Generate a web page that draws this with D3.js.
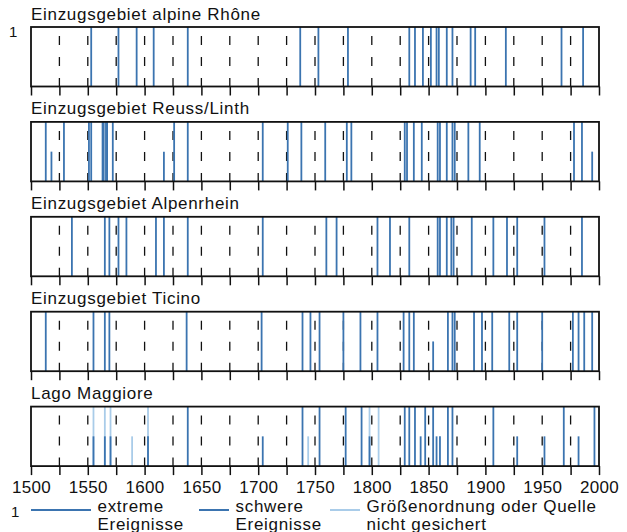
<!DOCTYPE html>
<html>
<head>
<meta charset="utf-8">
<script src="https://cdnjs.cloudflare.com/ajax/libs/d3/7.8.5/d3.min.js"></script>
<style>
  body { margin: 0; background: #fff; }
  svg text { font-family: 'Liberation Sans', Arial, Helvetica, sans-serif; fill: #111; }
</style>
</head>
<body>
<div id="chart"></div>
<script>
// Panel titles, top to bottom
const regions = [
  'Einzugsgebiet alpine Rhône',
  'Einzugsgebiet Reuss/Linth',
  'Einzugsgebiet Alpenrhein',
  'Einzugsgebiet Ticino',
  'Lago Maggiore'
];

// extreme events (full height), one array per panel
const extremeEvents = [
  [1553, 1577, 1593, 1608, 1638, 1737, 1753, 1779, 1833, 1838, 1845, 1852, 1857, 1859, 1866, 1871, 1887, 1891, 1918, 1967, 1986],
  [1513, 1529, 1551, 1553, 1563, 1564, 1566, 1567, 1572, 1626, 1638, 1704, 1726, 1738, 1759, 1778, 1782, 1829, 1831, 1837, 1844, 1858, 1860, 1866, 1871, 1873, 1885, 1895, 1978, 1985],
  [1536, 1565, 1569, 1577, 1584, 1610, 1617, 1638, 1704, 1760, 1769, 1805, 1816, 1833, 1858, 1860, 1866, 1870, 1872, 1888, 1907, 1919, 1928, 1952, 1985],
  [1513, 1555, 1565, 1569, 1637, 1703, 1739, 1746, 1754, 1775, 1790, 1805, 1828, 1833, 1837, 1867, 1871, 1873, 1890, 1897, 1906, 1921, 1928, 1950, 1977, 1982, 1987, 1994],
  [1638, 1739, 1754, 1777, 1791, 1829, 1833, 1838, 1847, 1854, 1867, 1871, 1907, 1969, 1996]
];

// severe events (half height)
const severeEvents = [
  [],
  [1518, 1617, 1994],
  [],
  [1854],
  [1555, 1565, 1570, 1603, 1704, 1798, 1843, 1857, 1860, 1928, 1952, 1982]
];

// magnitude or source uncertain (light blue)
const uncertainExtreme = [[], [], [], [], [1555, 1565, 1570, 1603, 1798, 1806]];
const uncertainSevere = [[], [], [], [], [1589, 1744]];

// tick every 25 years, label every 50
const tickYears = [1500, 1525, 1550, 1575, 1600, 1625, 1650, 1675, 1700, 1725, 1750,
  1775, 1800, 1825, 1850, 1875, 1900, 1925, 1950, 1975, 2000];
const labelYears = [1500, 1550, 1600, 1650, 1700, 1750, 1800, 1850, 1900, 1950, 2000];

const legendItems = [
  { lines: ['extreme', 'Ereignisse'], color: '#3b74b0', x: 31, len: 60 },
  { lines: ['schwere', 'Ereignisse'], color: '#3b74b0', x: 199, len: 30 },
  { lines: ['Größenordnung oder Quelle', 'nicht gesichert'], color: '#a9cce9', x: 330, len: 30 }
];

class EventStrips {
  constructor(_config) {
    this.config = {
      parentElement: _config.parentElement,
      containerWidth: 627,
      containerHeight: 532,
      left: 31,
      width: 568,
      top: 27,
      step: 94.9,
      panelHeight: 59.5,
      darkBlue: '#3b74b0',
      lightBlue: '#a9cce9'
    };
    this.initVis();
  }

  initVis() {
    let vis = this;
    const c = vis.config;

    vis.svg = d3.select(c.parentElement)
      .append('svg')
      .attr('width', c.containerWidth)
      .attr('height', c.containerHeight);

    vis.x = d3.scaleLinear().domain([1500, 2000]).range([c.left, c.left + c.width]);

    vis.renderVis();
  }

  renderVis() {
    let vis = this;
    const c = vis.config;

    regions.forEach((name, i) => {
      const top = c.top + i * c.step;
      const h = c.panelHeight;
      const g = vis.svg.append('g').attr('class', 'panel');

      g.append('text')
        .attr('x', c.left)
        .attr('y', top - 7.5)
        .attr('font-size', 17)
        .attr('letter-spacing', 0.7)
        .text(name);

      // dashed guides every 25 years
      g.selectAll('.guide')
        .data(tickYears.filter(d => d > 1500 && d < 2000))
        .join('line')
        .attr('class', 'guide')
        .attr('x1', d => vis.x(d))
        .attr('x2', d => vis.x(d))
        .attr('y1', top + 9)
        .attr('y2', top + h)
        .attr('stroke', '#111')
        .attr('stroke-width', 1.3)
        .attr('stroke-dasharray', '9,12');

      const drawEvents = (years, color, half) => {
        g.append('g')
          .selectAll('line')
          .data(years)
          .join('line')
          .attr('x1', d => vis.x(d))
          .attr('x2', d => vis.x(d))
          .attr('y1', half ? top + h / 2 : top)
          .attr('y2', top + h)
          .attr('stroke', color)
          .attr('stroke-width', 1.8);
      };
      drawEvents(uncertainExtreme[i], c.lightBlue, false);
      drawEvents(uncertainSevere[i], c.lightBlue, true);
      drawEvents(extremeEvents[i], c.darkBlue, false);
      drawEvents(severeEvents[i], c.darkBlue, true);

      g.append('rect')
        .attr('x', c.left)
        .attr('y', top)
        .attr('width', c.width)
        .attr('height', h)
        .attr('fill', 'none')
        .attr('stroke', '#111')
        .attr('stroke-width', 1.8);

      const axis = d3.axisBottom(vis.x)
        .tickValues(tickYears)
        .tickSize(9)
        .tickPadding(6)
        .tickFormat(d => (i === regions.length - 1 && labelYears.includes(d)) ? d : '');

      const ax = g.append('g')
        .attr('transform', `translate(0,${top + h})`)
        .call(axis);
      ax.select('.domain').remove();
      ax.selectAll('.tick line').attr('stroke', '#111').attr('stroke-width', 1.5);
      ax.selectAll('.tick text')
        .attr('font-size', 17)
        .attr('letter-spacing', 0.3)
        .attr('font-family', "'Liberation Sans', Arial, Helvetica, sans-serif")
        .attr('fill', '#111');
    });

    // stray "1" labels of the original
    vis.svg.append('text').attr('x', 9).attr('y', 37).attr('font-size', 15).attr('fill', '#444').text('1');
    vis.svg.append('text').attr('x', 11).attr('y', 517).attr('font-size', 15).attr('fill', '#444').text('1');

    // legend
    const leg = vis.svg.selectAll('.legend-item')
      .data(legendItems)
      .join('g')
      .attr('class', 'legend-item');

    leg.append('line')
      .attr('x1', d => d.x)
      .attr('x2', d => d.x + d.len)
      .attr('y1', 510)
      .attr('y2', 510)
      .attr('stroke', d => d.color)
      .attr('stroke-width', 2);

    leg.each(function (d) {
      const t = d3.select(this);
      d.lines.forEach((line, j) => {
        t.append('text')
          .attr('x', d.x + d.len + 6.5)
          .attr('y', 512 + j * 17.5)
          .attr('font-size', 17)
          .attr('letter-spacing', 0.7)
          .text(line);
      });
    });
  }
}

new EventStrips({ parentElement: '#chart' });
</script>
</body>
</html>
